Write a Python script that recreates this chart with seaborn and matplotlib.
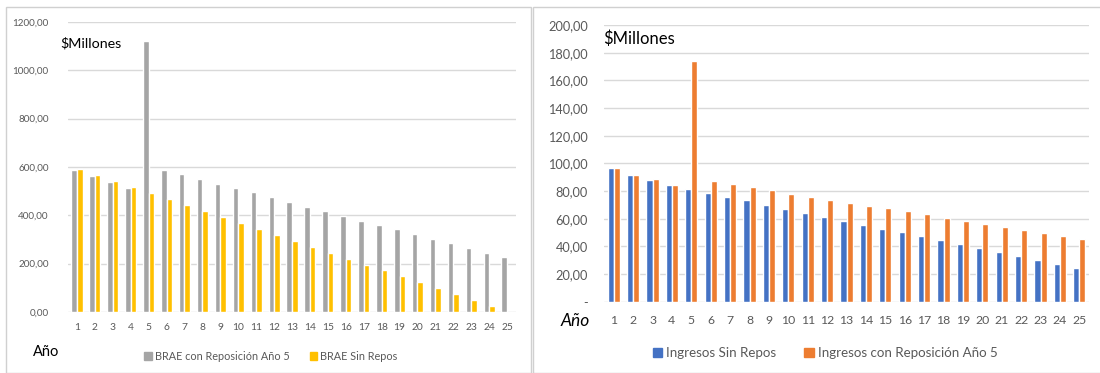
import numpy as np
import pandas as pd
import matplotlib
matplotlib.use("Agg")
import matplotlib.pyplot as plt
from matplotlib.patches import Rectangle, Patch
import seaborn as sns

# Años del horizonte de evaluación
anios = [str(i) for i in range(1, 26)]

# BRAE ($ millones)
brae_con_repos = [588, 564, 538, 513, 1122, 588, 570, 549, 531, 513, 495, 475, 455,
                  436, 417, 397, 378, 359, 342, 323, 303, 284, 265, 246, 226]
brae_sin_repos = [591, 567, 542, 516, 491, 466, 442, 418, 394, 370, 345, 320, 295,
                  269, 244, 221, 195, 174, 149, 124, 99, 75, 50, 25, 0]

# Ingresos ($ millones)
ingresos_sin_repos = [96.4, 91.6, 87.7, 84.3, 81.4, 78.6, 75.9, 73.3, 69.6, 67.0, 64.1,
                      61.2, 58.6, 55.7, 52.8, 50.1, 47.2, 44.6, 41.7, 38.8, 36.1, 32.8,
                      30.1, 27.2, 24.3]
ingresos_con_repos = [96.4, 91.6, 88.4, 84.3, 174.2, 87.2, 85.1, 82.7, 80.5, 78.1, 75.9,
                      73.7, 71.6, 69.2, 67.5, 65.3, 63.1, 60.7, 58.6, 56.4, 54.0, 51.8,
                      49.4, 47.2, 45.1]

serie_brae_con = "BRAE con Reposición Año 5"
serie_brae_sin = "BRAE Sin Repos"
serie_ing_sin = "Ingresos Sin Repos"
serie_ing_con = "Ingresos con Reposición Año 5"

df_brae = pd.DataFrame({
    "Año": anios * 2,
    "valor": brae_con_repos + brae_sin_repos,
    "serie": [serie_brae_con] * 25 + [serie_brae_sin] * 25,
})
df_ing = pd.DataFrame({
    "Año": anios * 2,
    "valor": ingresos_sin_repos + ingresos_con_repos,
    "serie": [serie_ing_sin] * 25 + [serie_ing_con] * 25,
})

sns.set_theme(style="white")
plt.rcParams["font.family"] = ["Lato", "DejaVu Sans"]

TXT = "#595959"
GRID = "#D9D9D9"

fig = plt.figure(figsize=(11, 3.73), dpi=100)

# Marcos de cada gráfico
for x0, w in [(6, 525), (533, 570)]:
    fig.add_artist(Rectangle((x0 / 1100, 0.0), w / 1100, 1 - 7 / 373,
                             transform=fig.transFigure, fill=False,
                             edgecolor="#D0D0D0", linewidth=1.0))

ax1 = fig.add_axes([68 / 1100, 1 - 312 / 373, 448 / 1100, 290 / 373])
ax2 = fig.add_axes([604 / 1100, 1 - 301.7 / 373, 485 / 1100, 276.7 / 373])

sns.barplot(data=df_brae, x="Año", y="valor", hue="serie", order=anios,
            hue_order=[serie_brae_con, serie_brae_sin],
            palette=["#A5A5A5", "#FFC000"], width=0.62, saturation=1,
            errorbar=None, legend=False, ax=ax1)
sns.barplot(data=df_ing, x="Año", y="valor", hue="serie", order=anios,
            hue_order=[serie_ing_sin, serie_ing_con],
            palette=["#4472C4", "#ED7D31"], width=0.62, saturation=1,
            errorbar=None, legend=False, ax=ax2)

def fmt_num(v):
    return f"{v:.2f}".replace(".", ",")

# Eje izquierdo: BRAE
ax1.set_ylim(0, 1200)
ax1.set_xlim(-0.5, 24.5)
yt1 = np.arange(0, 1201, 200)
ax1.set_yticks(yt1)
ax1.set_yticklabels([fmt_num(v) for v in yt1])
ax1.tick_params(axis="y", labelsize=7.1, colors=TXT, length=0, pad=14)
ax1.tick_params(axis="x", labelsize=7.4, colors=TXT, length=0, pad=8)

# Eje derecho: ingresos
ax2.set_ylim(0, 200)
ax2.set_xlim(-0.5, 24.5)
yt2 = np.arange(0, 201, 20)
ax2.set_yticks(yt2)
ax2.set_yticklabels(["-"] + [fmt_num(v) for v in yt2[1:]])
ax2.tick_params(axis="y", labelsize=9.2, colors=TXT, length=0, pad=11.5)
ax2.tick_params(axis="x", labelsize=8.8, colors=TXT, length=0, pad=9.5)

for ax in (ax1, ax2):
    ax.set_xlabel("")
    ax.set_ylabel("")
    for s in ax.spines.values():
        s.set_visible(False)
    ax.yaxis.grid(True, color=GRID, linewidth=1.0)
    ax.set_axisbelow(True)

# Rótulos
fig.text(60 / 1100, 1 - 43 / 373, "$Millones", fontsize=10.3, color="black",
         ha="left", va="center")
fig.text(603 / 1100, 1 - 39 / 373, "$Millones", fontsize=12.0, color="black",
         ha="left", va="center")
fig.text(33 / 1100, 1 - 352 / 373, "Año", fontsize=10.5, color="black",
         ha="left", va="center")
fig.text(561 / 1100, 1 - 321 / 373, "Año", fontsize=12.5, color="black",
         ha="left", va="center", style="italic")

# Leyendas
h1 = [Patch(color="#A5A5A5", label=serie_brae_con), Patch(color="#FFC000", label=serie_brae_sin)]
fig.legend(handles=h1, loc="center", bbox_to_anchor=(271 / 1100, 1 - 356 / 373),
           ncol=2, frameon=False, fontsize=7.8, handlelength=0.7, handleheight=0.7,
           handletextpad=0.3, columnspacing=1.8, labelcolor=TXT)
h2 = [Patch(color="#4472C4", label=serie_ing_sin), Patch(color="#ED7D31", label=serie_ing_con)]
fig.legend(handles=h2, loc="center", bbox_to_anchor=(825 / 1100, 1 - 353 / 373),
           ncol=2, frameon=False, fontsize=9.6, handlelength=0.7, handleheight=0.7,
           handletextpad=0.3, columnspacing=2.1, labelcolor=TXT)

fig.savefig("out.png", dpi=100, facecolor="white")
